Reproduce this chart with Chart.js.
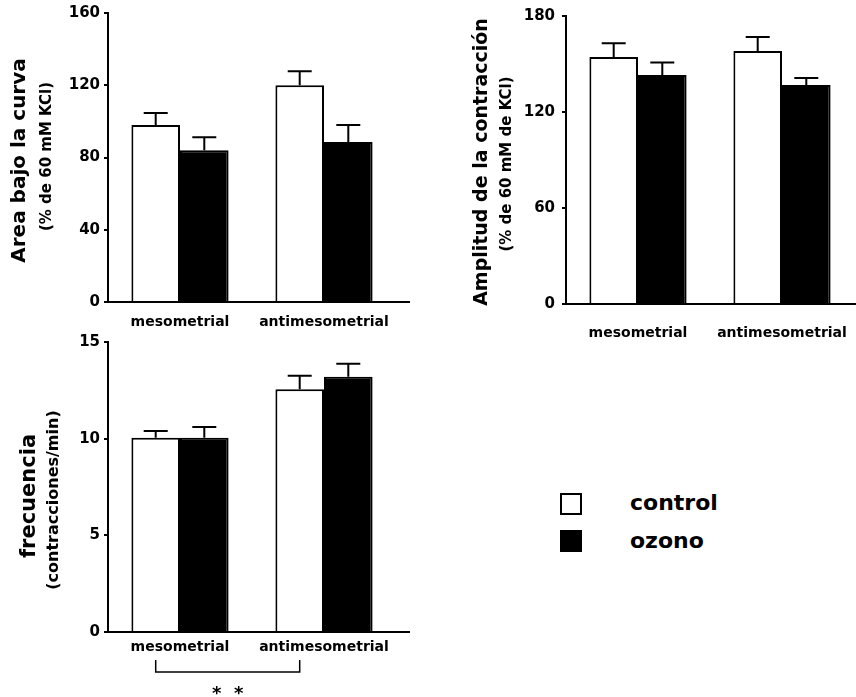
<!DOCTYPE html>
<html>
<head>
<meta charset="utf-8">
<script src="https://cdn.jsdelivr.net/npm/chart.js@4"></script>
<style>
  body { margin: 0; background: #fff; width: 856px; height: 697px; position: relative; overflow: hidden; font-family: "DejaVu Sans", sans-serif; }
  canvas { position: absolute; }
  .sw { position: absolute; left: 560px; width: 18px; height: 18px; border: 2px solid #000; }
  .lt { position: absolute; left: 630px; font-weight: bold; font-size: 22px; line-height: 24px; color: #000; }
</style>
</head>
<body>
<canvas id="area" width="430" height="340" style="left:0;top:0"></canvas>
<canvas id="amplitud" width="426" height="350" style="left:430px;top:0"></canvas>
<canvas id="frecuencia" width="430" height="367" style="left:0;top:330px"></canvas>
<div class="sw" style="top:493px;background:#fff"></div>
<div class="lt" style="top:491px">control</div>
<div class="sw" style="top:530px;background:#000"></div>
<div class="lt" style="top:529px">ozono</div>
<script>
// categories and series
const categories = ["mesometrial", "antimesometrial"];

const areaControl = [98, 120];
const areaControlSem = [6.6, 7.8];
const areaOzono = [84, 88.6];
const areaOzonoSem = [7.2, 9.4];

const amplControl = [154.4, 158.1];
const amplControlSem = [8.6, 8.8];
const amplOzono = [143.1, 136.9];
const amplOzonoSem = [7.9, 4.4];

const frecControl = [10.05, 12.55];
const frecControlSem = [0.35, 0.7];
const frecOzono = [10.05, 13.2];
const frecOzonoSem = [0.55, 0.68];

Chart.defaults.color = "#000";
Chart.defaults.font.family = '"DejaVu Sans", sans-serif';
Chart.defaults.font.weight = "bold";

// error bars, extended x axis, two-line y titles, bracket
const extras = {
  id: "extras",
  afterDraw(chart, args, opts) {
    const ctx = chart.ctx;
    const area = chart.chartArea;
    const y = chart.scales.y;
    ctx.save();
    ctx.strokeStyle = "#000";
    ctx.fillStyle = "#000";
    ctx.lineWidth = 2;

    chart.data.datasets.forEach((ds, i) => {
      const meta = chart.getDatasetMeta(i);
      meta.data.forEach((bar, j) => {
        const top = y.getPixelForValue(ds.data[j] + ds.sem[j]);
        ctx.beginPath();
        ctx.moveTo(bar.x, bar.y);
        ctx.lineTo(bar.x, top);
        ctx.moveTo(bar.x - 12, top);
        ctx.lineTo(bar.x + 12, top);
        ctx.stroke();
      });
    });

    ctx.beginPath();
    ctx.moveTo(area.left - 1, area.bottom);
    ctx.lineTo(area.right + opts.extend, area.bottom);
    ctx.stroke();

    const mid = (area.top + area.bottom) / 2;
    ctx.textAlign = "center";
    ctx.textBaseline = "middle";
    ctx.save();
    ctx.translate(opts.titleX, mid + opts.titleDy);
    ctx.rotate(-Math.PI / 2);
    ctx.font = "bold " + opts.titleSize + 'px "DejaVu Sans"';
    ctx.fillText(opts.title, 0, 0);
    ctx.restore();
    ctx.save();
    ctx.translate(opts.subX, mid + opts.subDy);
    ctx.rotate(-Math.PI / 2);
    ctx.font = "bold " + opts.subSize + 'px "DejaVu Sans"';
    ctx.fillText(opts.sub, 0, 0);
    ctx.restore();

    if (opts.bracket) {
      const m = chart.getDatasetMeta(0).data;
      const x1 = m[0].x, x2 = m[1].x;
      const b = area.bottom;
      ctx.lineWidth = 1.5;
      ctx.beginPath();
      ctx.moveTo(x1, b + 28);
      ctx.lineTo(x1, b + 40);
      ctx.lineTo(x2, b + 40);
      ctx.lineTo(x2, b + 28);
      ctx.stroke();
      ctx.font = 'bold 18px "DejaVu Sans"';
      ctx.fillText("*  *", (x1 + x2) / 2, b + 62);
    }
    ctx.restore();
  }
};

function makeChart(id, ctrl, ctrlSem, ozo, ozoSem, yMax, step, lay, extraOpts) {
  return new Chart(document.getElementById(id), {
    type: "bar",
    data: {
      labels: categories,
      datasets: [
        { label: "control", data: ctrl, sem: ctrlSem, backgroundColor: "#fff", borderColor: "#000", borderWidth: 2 },
        { label: "ozono", data: ozo, sem: ozoSem, backgroundColor: "#000", borderColor: "#000", borderWidth: 2 }
      ]
    },
    options: {
      responsive: false,
      animation: false,
      events: [],
      categoryPercentage: 0.675,
      barPercentage: 1,
      layout: { padding: lay.padding },
      plugins: { legend: { display: false }, tooltip: { enabled: false }, extras: extraOpts },
      scales: {
        x: {
          grid: { display: false, drawTicks: false },
          border: { display: false },
          ticks: { font: { size: 14, weight: "bold" }, padding: lay.xPad, maxRotation: 0, autoSkip: false },
          afterFit: (s) => { s.height = lay.xHeight; s.paddingLeft = 0; s.paddingRight = 0; }
        },
        y: {
          min: 0,
          max: yMax,
          ticks: { stepSize: step, font: { size: 15, weight: "bold" }, padding: lay.yPad },
          grid: { drawOnChartArea: false, drawTicks: true, tickLength: 4, color: "#000", lineWidth: 2 },
          border: { display: true, color: "#000", width: 2 },
          afterFit: (s) => { s.width = lay.yWidth; s.paddingTop = 0; s.paddingBottom = 0; }
        }
      }
    },
    plugins: [extras]
  });
}

makeChart("area", areaControl, areaControlSem, areaOzono, areaOzonoSem, 160, 40,
  { padding: { top: 13, left: 60, right: 34, bottom: 0 }, xHeight: 38, yWidth: 48, xPad: 12, yPad: 4 },
  { extend: 14, title: "Area bajo la curva", titleSize: 20, titleX: 20, titleDy: 3,
    sub: "(% de 60 mM KCl)", subSize: 15, subX: 47, subDy: -1 });

makeChart("amplitud", amplControl, amplControlSem, amplOzono, amplOzonoSem, 180, 60,
  { padding: { top: 16, left: 80, right: 2, bottom: 0 }, xHeight: 46, yWidth: 56, xPad: 21, yPad: 7 },
  { extend: 4, title: "Amplitud de la contracción", titleSize: 19, titleX: 52, titleDy: 2,
    sub: "(% de 60 mM de KCl)", subSize: 15, subX: 77, subDy: 4 });

makeChart("frecuencia", frecControl, frecControlSem, frecOzono, frecOzonoSem, 15, 5,
  { padding: { top: 12, left: 60, right: 34, bottom: 0 }, xHeight: 65, yWidth: 48, xPad: 7, yPad: 4 },
  { extend: 14, title: "frecuencia", titleSize: 21, titleX: 30, titleDy: 9,
    sub: "(contracciones/min)", subSize: 16, subX: 54, subDy: 13, bracket: true });
</script>
</body>
</html>
